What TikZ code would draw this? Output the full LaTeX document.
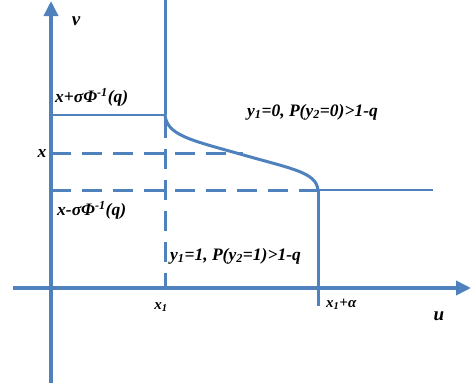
\documentclass[tikz,border=0pt]{standalone}
\usepackage{fontspec}
\setmainfont{Liberation Serif}
\usetikzlibrary{arrows.meta}
\definecolor{ax}{RGB}{79,129,189}
\tikzset{
  axis/.style={ax,line width=3.6pt,-{Triangle[length=15pt,width=14pt]}},
  thick line/.style={ax,line width=3pt},
  thin line/.style={ax,line width=2pt},
  dash line/.style={ax,line width=3pt,dash pattern=on 20pt off 11pt},
  lbl/.style={font=\bfseries\itshape\fontsize{17.5}{19}\selectfont,inner sep=0pt,black},
  small lbl/.style={font=\bfseries\itshape\fontsize{15}{17}\selectfont,inner sep=0pt,black},
  ax lbl/.style={font=\bfseries\itshape\fontsize{19}{21}\selectfont,inner sep=0pt,black},
}
\begin{document}
\begin{tikzpicture}[x=1pt,y=-1pt]
\useasboundingbox (0,0) rectangle (472,391);
% coordinates
\coordinate (vb) at (51,383);
\coordinate (vt) at (51,1);
\coordinate (ul) at (13,288);
\coordinate (ur) at (471,288);
\coordinate (ctop) at (165,0);
\coordinate (c1) at (165,115);
\coordinate (c1b) at (165,288);
\coordinate (up) at (51,115);
\coordinate (mid) at (51,153);
\coordinate (midr) at (243,153);
\coordinate (lo) at (51,190);
\coordinate (c2) at (318,190);
\coordinate (c2b) at (318,306);
\coordinate (far) at (433,190);
% lines
\draw[thin line] (up) -- (c1);
\draw[dash line] (mid) -- (midr);
\draw[dash line] (lo) -- (c2);
\draw[dash line] (c1) ++(0,3) -- (c1b);
\draw[thin line] (c2) -- (far);
\draw[thick line] (ctop) -- (c1);
\draw[thick line] (c2) -- (c2b);
\draw[thick line] (c1) .. controls (167,135) and (190,140) .. (240,154) .. controls (292,169) and (316,172) .. (c2);
\draw[axis] (ul) -- (ur);
\draw[axis] (vb) -- (vt);
% labels
\node[ax lbl] (lv) at (76,21) {v};
\node[lbl,anchor=west] (lup) at (55,97) {x+σΦ\textsuperscript{-1}(q)};
\node[lbl] (lx) at (42,153) {x};
\node[lbl,anchor=west] (llo) at (57,210) {x-σΦ\textsuperscript{-1}(q)};
\node[lbl,anchor=west] (r0) at (247,112) {y\textsubscript{1}=0, P(y\textsubscript{2}=0)>1-q};
\node[lbl,anchor=west] (r1) at (170,256) {y\textsubscript{1}=1, P(y\textsubscript{2}=1)>1-q};
\node[small lbl] (lx1) at (161,307) {x\textsubscript{1}};
\node[small lbl,anchor=west] (lxa) at (326,304) {x\textsubscript{1}+α};
\node[ax lbl] (lu) at (439,316) {u};
\end{tikzpicture}
\end{document}
